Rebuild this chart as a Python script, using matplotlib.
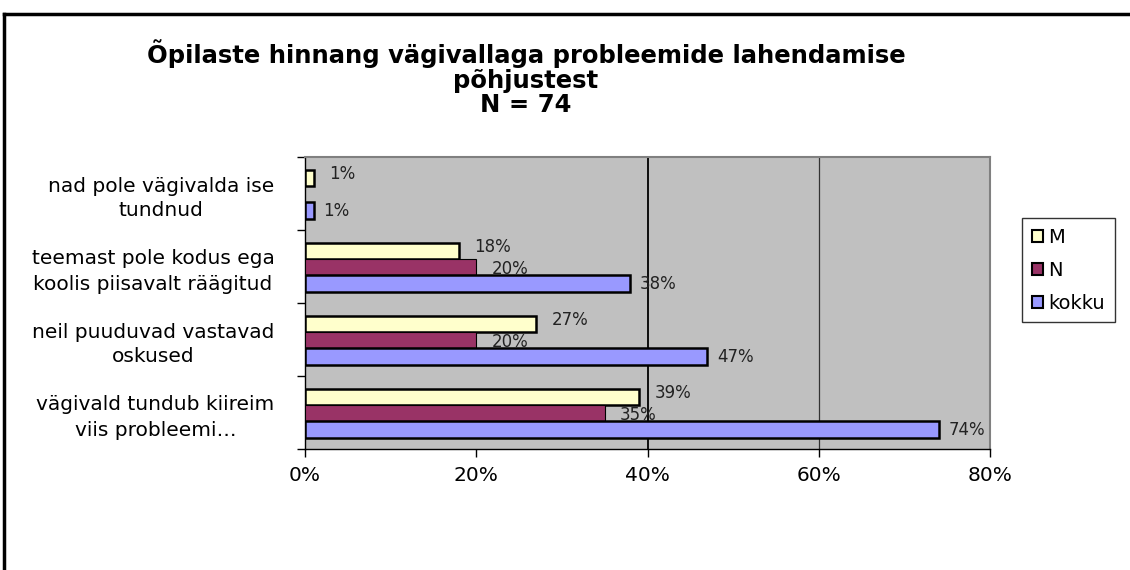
import matplotlib
matplotlib.use("Agg")
import matplotlib.pyplot as plt
from matplotlib.lines import Line2D
from matplotlib.patches import Patch
import numpy as np

plt.rcParams['font.family'] = ['DejaVu Sans']

categories = [
    "nad pole vägivalda ise\ntundnud",
    "teemast pole kodus ega\nkoolis piisavalt räägitud",
    "neil puuduvad vastavad\noskused",
    "vägivald tundub kiireim\nviis probleemi…",
]
series = ["M", "N", "kokku"]
values_m = [1, 18, 27, 39]
values_n = [0, 20, 20, 35]
values_kokku = [1, 38, 47, 74]
colors = ["#FFFFCC", "#993366", "#9999FF"]
xticks = [0, 20, 40, 60, 80]

W, H = 1130, 570
fig = plt.figure(figsize=(W / 100, H / 100), dpi=100)
ax = fig.add_axes([305 / W, 1 - 449 / H, (990 - 305) / W, (449 - 157) / H])
ax.set_facecolor("#C0C0C0")

y = np.arange(len(categories))
h = 0.225
offsets = [-h, 0, h]
all_vals = [values_m, values_n, values_kokku]
lw = [1.8, 0.8, 1.8]
# label nudges (points) to mimic excel placement
dy = [3, -1, 0]
dx = [11, 11, 7]

for k, (name, vals) in enumerate(zip(series, all_vals)):
    pos = y + offsets[k] + 0.01
    for yi, v in zip(pos, vals):
        if v == 0:
            continue
        ax.barh(yi, v, height=h, color=colors[k], edgecolor="black",
                linewidth=lw[k], zorder=3)
        ax.annotate(f"{v}%", (v, yi), xytext=(dx[k], dy[k]),
                    textcoords="offset points", ha="left", va="center",
                    fontsize=12, color="#222222", zorder=4)

ax.axvline(40, color="black", lw=1.3, zorder=1)
ax.axvline(60, color="#333333", lw=0.9, zorder=1)

ax.set_xlim(0, 80)
ax.set_ylim(len(categories) - 0.5, -0.5)
ax.set_xticks(xticks)
ax.set_xticklabels([f"{t}%" for t in xticks], fontsize=14.5)
ax.tick_params(axis="x", length=6, width=1, pad=6, direction="out")

ax.set_yticks(y)
ax.set_yticklabels(categories, fontsize=14.5, linespacing=1.4)
for lbl in ax.get_yticklabels():
    lbl.set_multialignment("center")
ax.tick_params(axis="y", which="major", length=0, pad=22)
ax.set_yticks(np.arange(len(categories) + 1) - 0.5, minor=True)
ax.tick_params(axis="y", which="minor", length=6, width=1, direction="out")

for s in ["top", "right"]:
    ax.spines[s].set_color("#808080")
    ax.spines[s].set_linewidth(1.5)
ax.spines["left"].set_color("black")
ax.spines["bottom"].set_color("black")
ax.spines["left"].set_linewidth(1)
ax.spines["bottom"].set_linewidth(1)

# title
tx = 526 / W
fig.text(tx, 1 - 63 / H, "Õpilaste hinnang vägivallaga probleemide lahendamise",
         ha="center", va="baseline", fontsize=17.5, fontweight="bold")
fig.text(tx, 1 - 88 / H, "põhjustest", ha="center", va="baseline",
         fontsize=17.5, fontweight="bold")
fig.text(tx, 1 - 112 / H, "N = 74", ha="center", va="baseline",
         fontsize=17.5, fontweight="bold")

handles = [Patch(facecolor=c, edgecolor="black", linewidth=1.5) for c in colors]
leg = fig.legend(handles, series, loc="upper left",
                 bbox_to_anchor=(1022 / W, 1 - 218 / H), fontsize=14,
                 frameon=True, fancybox=False, handlelength=0.6,
                 handleheight=0.6, handletextpad=0.25, labelspacing=0.72,
                 borderpad=0.5, borderaxespad=0)
leg.get_frame().set_edgecolor("black")
leg.get_frame().set_linewidth(1)

# outer chart frame (top and left edges visible)
fig.add_artist(Line2D([4 / W, 4 / W], [0, 1 - 14 / H], color="black", lw=2.5,
                      transform=fig.transFigure))
fig.add_artist(Line2D([4 / W, 1], [1 - 14 / H, 1 - 14 / H], color="black", lw=2.5,
                      transform=fig.transFigure))

fig.savefig("out.png", dpi=100)
